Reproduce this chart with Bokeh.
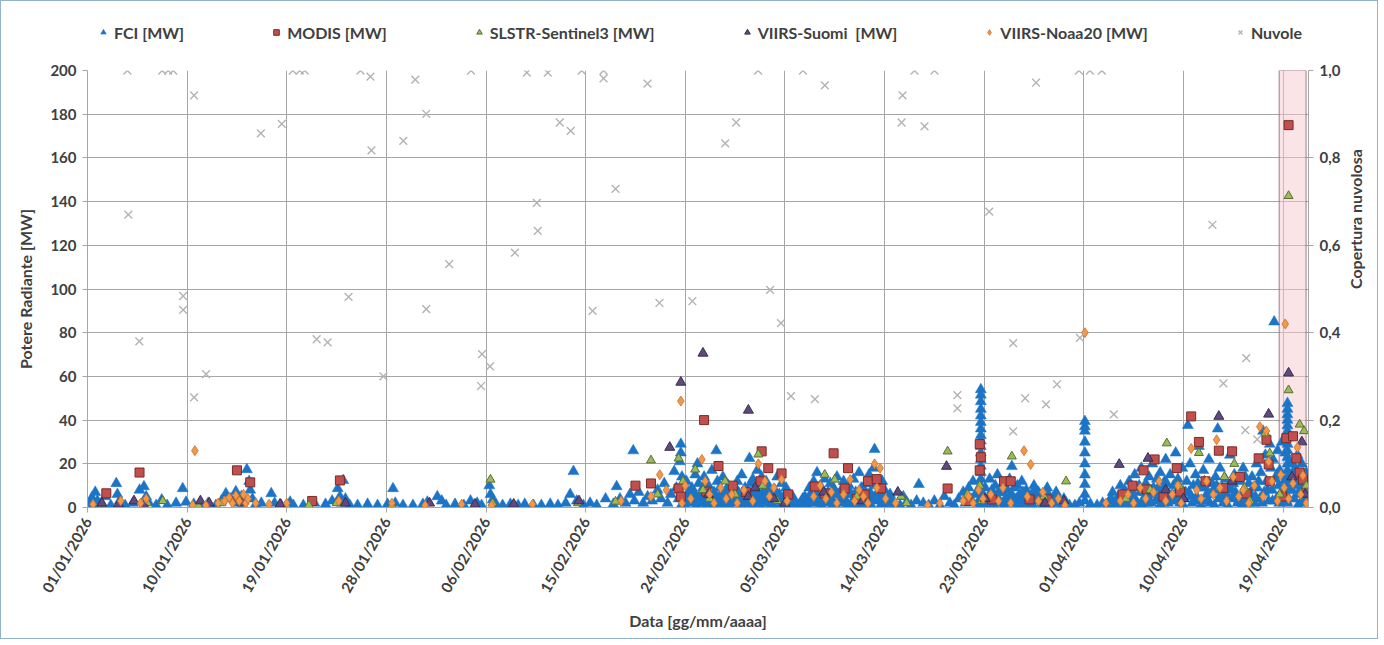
import pandas as pd
from bokeh.plotting import figure
from bokeh.layouts import column
from bokeh.models import (Range1d, LinearAxis, FixedTicker, DatetimeTickFormatter, BoxAnnotation,
                          Legend, LegendItem, ColumnDataSource, CustomJSTickFormatter)
from bokeh.embed import file_html
from bokeh.resources import INLINE

# ---------------- data (day offset from 01/01/2026, value) ----------------
tick_labels = ["01/01/2026", "10/01/2026", "19/01/2026", "28/01/2026", "06/02/2026", "15/02/2026",
               "24/02/2026", "05/03/2026", "14/03/2026", "23/03/2026", "01/04/2026", "10/04/2026",
               "19/04/2026"]
mw_ticks = [0, 20, 40, 60, 80, 100, 120, 140, 160, 180, 200]
cloud_ticks = [0.0, 0.2, 0.4, 0.6, 0.8, 1.0]
highlight_days = [107.65, 110.08]

fci = [
    (0.2, 2), (0.4, 4.5), (0.5, 1), (0.7, 7), (0.9, 3), (1.2, 1.5), (1.6, 5), (2.1, 1), (2.6, 11), (2.7, 6),
    (2.9, 3), (3.4, 1), (4.1, 2), (4.7, 8), (5.1, 9.6), (5.3, 5), (5.5, 2.5), (6.2, 1), (6.7, 3.5), (7.2, 1),
    (8.0, 2), (8.6, 8.7), (8.9, 2.5), (9.6, 1.5),
    (10.3, 1), (10.9, 2), (11.6, 1), (12.1, 3), (12.5, 6.4), (12.9, 4), (13.4, 7.3), (13.6, 2), (13.9, 5),
    (14.1, 3), (14.4, 17.4), (14.6, 12), (14.7, 8), (14.9, 4), (15.2, 1.5), (15.7, 2), (16.6, 6.4), (16.9, 2),
    (17.5, 1), (18.3, 2.5), (18.6, 1),
    (19.5, 1), (20.5, 2), (21.5, 1.5), (22.1, 3), (22.6, 8.7), (22.8, 5), (23.0, 2), (23.1, 12.4), (23.3, 4),
    (23.7, 1), (24.4, 1), (25.3, 1.5), (26.2, 1), (27.1, 1.5), (27.6, 8.7), (27.8, 2), (28.5, 1), (29.4, 1),
    (30.3, 1.5), (30.7, 2.5), (31.6, 5), (32.0, 3), (32.4, 1), (33.2, 1.5), (34.0, 1), (34.6, 3), (35.2, 2),
    (35.6, 1), (36.3, 10), (36.4, 6), (36.6, 3.5), (36.9, 1.5),
    (37.5, 1), (38.2, 1.5), (38.9, 1), (39.5, 1.5), (40.3, 1), (41.0, 1), (41.8, 1.5), (42.5, 1), (43.2, 2),
    (43.6, 6), (43.9, 16.5), (44.2, 3), (44.8, 1), (45.4, 2), (46.0, 1), (46.8, 4), (47.5, 1.5), (47.8, 9.6),
    (48.1, 4), (48.6, 2), (49.0, 6), (49.3, 26), (49.4, 3), (49.8, 7), (50.2, 2), (50.6, 5), (51.0, 3),
    (51.5, 8), (51.8, 4), (52.1, 11), (52.4, 2), (52.7, 6), (53.0, 16.5), (53.2, 9), (53.4, 4),
    (53.6, 29), (53.6, 25), (53.5, 21), (53.7, 14), (53.8, 10), (53.6, 6), (53.9, 3), (53.7, 1.5),
    (54.1, 12), (54.3, 7), (54.4, 4), (54.6, 9), (54.7, 2), (54.9, 15), (54.9, 5),
    (55.1, 20), (55.2, 11), (55.4, 6), (55.5, 2), (55.7, 14), (55.8, 8), (55.9, 3),
    (56.1, 10), (56.2, 5), (56.4, 17), (56.5, 1.5), (56.6, 7), (56.8, 26), (56.9, 12), (56.9, 4),
    (57.1, 9), (57.3, 3), (57.4, 14), (57.6, 6), (57.8, 1.5), (57.9, 10),
    (58.2, 4), (58.4, 8), (58.6, 2), (58.7, 12), (58.9, 5),
    (59.1, 15), (59.2, 3), (59.4, 9), (59.6, 1.5), (59.8, 22.5), (59.9, 11), (59.9, 6),
    (60.1, 13), (60.2, 4), (60.4, 8), (60.5, 17), (60.6, 2), (60.7, 10), (60.8, 5), (60.9, 14),
    (61.0, 7), (61.2, 3), (61.3, 12), (61.5, 2), (61.5, 6), (61.6, 9), (61.8, 4), (61.9, 1.5),
    (62.1, 8), (62.3, 14), (62.4, 3), (62.5, 6), (62.7, 11), (62.8, 2), (62.9, 5),
    (63.1, 9), (63.3, 3), (63.5, 1.5), (63.7, 5), (63.9, 2),
    (64.2, 1), (64.6, 4), (64.9, 2),
    (65.2, 9), (65.4, 4), (65.6, 12), (65.8, 6), (65.9, 16), (66.0, 2),
    (66.2, 10), (66.4, 5), (66.6, 13), (66.7, 2), (66.9, 7),
    (67.1, 11), (67.2, 4), (67.4, 9), (67.5, 1.5), (67.7, 14), (67.8, 6), (67.9, 3),
    (68.1, 8), (68.3, 12), (68.4, 4), (68.6, 2), (68.8, 10), (68.9, 6),
    (69.1, 3), (69.2, 13), (69.4, 7), (69.6, 2), (69.7, 16), (69.9, 9),
    (70.1, 5), (70.3, 11), (70.4, 2), (70.6, 15), (70.7, 7), (70.9, 4), (71.1, 26.6), (71.0, 18),
    (71.2, 10), (71.4, 3), (71.5, 8), (71.7, 1.5), (71.8, 12), (71.9, 5),
    (72.2, 3), (72.5, 6), (72.8, 1.5),
    (53.8, 4), (54.0, 1), (54.2, 6), (54.5, 2.5), (54.8, 7), (55.0, 1), (55.3, 4), (55.6, 9), (55.9, 1),
    (56.0, 5), (56.3, 2), (56.7, 4), (57.0, 1), (57.2, 6), (57.5, 2), (57.7, 8), (58.0, 1), (58.1, 5),
    (58.5, 3), (58.8, 7), (59.0, 1), (59.3, 5), (59.5, 3), (59.7, 7), (60.0, 1), (60.3, 6), (60.5, 3),
    (60.8, 1), (61.1, 5), (61.4, 8), (61.7, 1), (62.0, 4), (62.2, 6.5), (62.6, 1), (63.0, 3), (63.2, 6),
    (63.4, 1), (63.8, 3.5), (64.4, 2), (64.8, 5), (65.0, 1), (65.3, 6), (65.5, 2), (65.7, 8), (66.1, 4),
    (66.3, 1), (66.5, 7), (66.8, 3), (67.0, 5), (67.3, 1), (67.6, 6), (68.0, 2), (68.2, 5), (68.5, 8),
    (68.7, 1), (69.0, 6), (69.3, 1), (69.5, 4), (69.8, 5), (70.0, 1), (70.2, 8), (70.5, 4), (70.8, 1),
    (71.3, 6), (71.6, 4), (71.9, 1), (72.0, 8), (72.4, 2), (72.6, 4),
    (73.4, 1), (73.7, 5), (74.0, 2.5), (74.4, 1), (74.9, 3), (75.1, 10.6), (75.5, 2), (76.0, 1), (76.5, 3),
    (77.0, 1), (77.4, 5), (77.9, 2), (78.3, 1), (78.7, 4), (79.1, 7), (79.3, 2), (79.6, 9), (79.8, 4),
    (80.0, 12), (80.2, 6), (80.4, 2),
    (80.7, 54), (80.7, 51.5), (80.7, 48.5), (80.7, 45), (80.7, 42), (80.7, 39), (80.7, 36), (80.7, 33),
    (80.7, 30.5), (80.7, 28), (80.7, 25), (80.7, 22), (80.7, 19), (80.7, 16), (80.7, 13), (80.7, 10),
    (80.7, 7), (80.7, 4), (80.7, 1.5),
    (81.0, 5), (81.1, 9), (81.3, 2), (81.5, 13), (81.6, 6), (81.8, 3), (82.0, 10), (82.2, 15), (82.3, 7),
    (82.5, 2), (82.7, 11), (82.9, 4), (83.1, 8), (83.3, 13), (83.5, 18.8), (83.6, 5), (83.8, 2), (84.0, 10),
    (84.2, 6), (84.4, 12), (84.6, 3), (84.8, 8), (85.0, 1.5), (85.3, 6), (85.5, 10), (85.7, 3), (85.9, 7),
    (86.2, 2), (86.4, 5), (86.7, 9), (86.9, 1.5), (87.2, 4), (87.5, 7), (87.8, 2), (88.2, 4), (88.7, 1),
    (81.2, 1), (81.4, 4), (81.7, 8), (81.9, 1), (82.1, 5), (82.4, 3), (82.6, 7), (82.8, 1), (83.0, 4),
    (83.2, 2), (83.4, 6), (83.7, 9), (83.9, 4), (84.1, 1), (84.3, 3), (84.5, 7), (84.7, 1), (84.9, 5),
    (85.2, 3), (85.4, 1), (85.6, 8), (85.8, 4), (86.0, 6), (86.3, 1), (86.6, 3), (86.8, 6), (87.0, 1),
    (87.4, 2), (87.6, 5), (88.0, 1), (88.4, 2),
    (90.1, 39.4), (90.1, 37), (90.1, 35), (90.1, 30), (90.1, 25), (90.1, 20), (90.1, 15), (90.1, 10.6),
    (90.1, 6), (90.1, 3),
    (89.2, 1), (89.6, 2), (90.6, 1.5), (91.2, 1), (91.7, 2),
    (92.3, 3), (92.6, 7), (92.8, 1.5),
    (93.1, 5), (93.3, 10), (93.5, 2), (93.7, 8), (93.9, 4),
    (94.1, 12), (94.2, 6), (94.4, 3), (94.6, 15), (94.7, 9), (94.9, 1.5),
    (95.1, 7), (95.2, 18), (95.4, 4), (95.6, 11), (95.7, 2), (95.9, 14),
    (96.0, 6), (96.2, 20), (96.3, 9), (96.5, 3), (96.6, 13), (96.8, 5), (96.9, 16),
    (97.1, 8), (97.2, 2), (97.4, 22), (97.5, 11), (97.7, 6), (97.8, 15), (97.9, 3),
    (98.1, 10), (98.3, 25), (98.4, 5), (98.5, 13), (98.7, 2), (98.8, 8), (98.9, 18),
    (99.1, 4), (99.3, 12), (99.4, 37.6), (99.5, 7), (99.6, 20), (99.8, 2), (99.9, 10),
    (100.1, 15), (100.2, 5), (100.4, 28), (100.5, 9), (100.7, 3), (100.8, 17), (100.9, 12),
    (101.1, 6), (101.3, 22), (101.4, 2), (101.6, 11), (101.7, 8), (101.9, 14),
    (102.1, 36), (102.2, 4), (102.3, 18), (102.5, 9), (102.6, 2), (102.8, 13), (102.9, 6),
    (103.1, 10), (103.2, 24), (103.4, 4), (103.6, 15), (103.7, 7), (103.9, 2),
    (104.1, 12), (104.2, 5), (104.4, 18), (104.5, 8), (104.7, 3), (104.9, 11),
    (105.1, 6), (105.2, 14), (105.4, 2), (105.6, 20), (105.7, 9), (105.9, 4),
    (106.0, 16), (106.2, 35), (106.3, 7), (106.4, 24), (106.5, 12), (106.7, 3), (106.8, 29), (106.9, 18),
    (107.0, 8), (107.1, 22), (107.2, 85), (107.3, 13), (107.4, 4), (107.5, 26), (107.6, 10), (107.7, 17),
    (107.8, 6), (107.9, 30),
    (92.1, 1), (92.5, 4), (92.9, 2), (93.2, 1), (93.4, 6), (93.8, 3), (94.0, 1), (94.3, 8), (94.5, 5),
    (94.8, 2), (95.0, 10), (95.3, 1), (95.5, 7), (95.8, 4), (96.1, 2), (96.4, 6), (96.7, 9), (96.9, 1),
    (97.0, 5), (97.3, 12), (97.6, 2), (98.0, 6), (98.2, 3), (98.6, 9), (99.0, 1), (99.2, 7), (99.7, 5),
    (100.0, 3), (100.3, 11), (100.6, 1), (101.0, 9), (101.2, 3), (101.5, 6), (101.8, 1), (102.0, 10),
    (102.4, 6), (102.7, 4), (103.0, 1), (103.3, 8), (103.5, 11), (103.8, 5), (104.0, 3), (104.3, 1),
    (104.6, 14), (104.8, 6), (105.0, 2), (105.3, 9), (105.5, 5), (105.8, 12), (106.1, 2), (106.6, 8),
    (107.05, 3), (107.45, 15), (107.65, 2), (108.0, 7), (108.3, 3), (108.6, 11), (109.0, 13), (109.35, 1),
    (109.65, 9), (109.85, 3), (110.05, 8), (110.25, 13),
    (108.4, 47.7), (108.4, 45), (108.4, 42.5), (108.4, 40), (108.4, 37.5), (108.4, 35), (108.4, 32),
    (108.4, 29), (108.4, 26), (108.4, 23), (108.4, 20), (108.4, 17), (108.4, 14), (108.4, 11), (108.4, 8),
    (108.4, 5), (108.4, 2),
    (108.1, 12), (108.2, 25), (108.7, 20), (108.8, 8), (108.9, 15),
    (109.0, 4), (109.1, 18), (109.2, 10), (109.3, 24), (109.4, 6), (109.5, 14), (109.6, 2), (109.7, 20),
    (109.8, 9), (109.9, 12), (110.0, 5), (110.1, 16), (110.2, 3), (110.3, 10),
]

modis = [
    (1.7, 6.5), (4.7, 16), (13.5, 17), (14.7, 11.5), (20.3, 3), (22.8, 12.4), (49.5, 10), (50.9, 11),
    (53.4, 8.7), (53.6, 5), (55.7, 40), (55.9, 7.3), (57.0, 19), (58.3, 10), (59.5, 7), (60.8, 12),
    (60.9, 25.7), (61.5, 18), (62.7, 15.6), (63.3, 6), (65.7, 9.6), (66.6, 6.4), (67.4, 24.8), (68.4, 8.7),
    (68.7, 18), (69.5, 4), (70.2, 5.9), (70.5, 12), (71.3, 13), (71.7, 8.7), (77.7, 8.7), (79.5, 3),
    (80.6, 17), (80.6, 29), (80.7, 23), (81.7, 3.7), (82.8, 12), (83.4, 12), (85.1, 3.7), (86.7, 3.7),
    (93.5, 6), (94.4, 10), (95.4, 17), (95.7, 8.3), (96.4, 22), (97.2, 5), (98.4, 18), (98.7, 7.3),
    (99.7, 41.7), (100.4, 30), (101.0, 12), (102.2, 26), (102.6, 9), (103.4, 25.7), (104.1, 14),
    (104.7, 6.4), (105.8, 22.5), (106.5, 31), (106.7, 19.7), (106.8, 12), (107.9, 5), (108.3, 31.7),
    (108.5, 175), (108.9, 32.6), (109.2, 22.5), (109.5, 16), (109.8, 12.8), (110.1, 7),
]

slstr = [
    (1.3, 1.5), (5.4, 2), (6.8, 3), (10.0, 1), (12.1, 2), (13.8, 3), (20.0, 1), (22.5, 2), (27.5, 1),
    (36.4, 12.8), (36.6, 2), (44.3, 2), (47.7, 2.7), (50.9, 21.6), (51.5, 6), (53.4, 22.5), (53.8, 12),
    (54.9, 17.4), (55.6, 8), (56.2, 4), (57.6, 12), (58.5, 6), (60.6, 24.3), (61.0, 10), (62.3, 3),
    (66.6, 15), (67.5, 12.8), (69.5, 5), (73.5, 5), (74.0, 2), (77.7, 25.7), (79.5, 6), (80.6, 10),
    (80.8, 3), (83.5, 23.4), (86.4, 5), (88.4, 12), (93.8, 4), (96.0, 8), (97.5, 29.4), (98.6, 10),
    (100.4, 25), (102.7, 14), (103.6, 20), (104.5, 9), (105.0, 3), (106.4, 34), (106.8, 24.8),
    (107.7, 6), (108.5, 142.6), (108.5, 53.7), (109.5, 38), (109.9, 35), (110.1, 10),
]

suomi = [
    (1.3, 2), (2.8, 1.5), (4.2, 3), (5.1, 1), (10.2, 3), (11.0, 2), (13.3, 4), (14.0, 2), (17.4, 1.5),
    (23.3, 2), (30.9, 2), (35.0, 1.5), (38.5, 1.5), (44.4, 3), (52.6, 27.5), (53.6, 57.3), (55.6, 70.6),
    (56.1, 6), (59.7, 5), (59.7, 44.5), (60.3, 9), (62.0, 4), (63.0, 2), (66.5, 7), (70.0, 3), (73.2, 7),
    (77.6, 18.8), (81.1, 4), (86.5, 2), (88.2, 3), (93.2, 19.7), (95.8, 22.5), (97.4, 8), (99.0, 4),
    (102.2, 41.7), (103.4, 12), (106.7, 42.7), (108.5, 61.5), (108.8, 14), (109.7, 30), (110.0, 6),
]

noaa20 = [
    (0.5, 1.5), (3.0, 3), (4.8, 2), (5.3, 4), (9.5, 1), (9.7, 26), (10.7, 1), (11.8, 2), (12.4, 3),
    (12.8, 4.5), (13.1, 2), (13.4, 5.5), (13.7, 3), (14.1, 6), (14.3, 2), (14.5, 4), (15.2, 2), (16.4, 1.5),
    (18.0, 2), (22.7, 3), (27.5, 2), (30.5, 1), (33.8, 1.5), (36.5, 1), (40.2, 1.5),
    (48.2, 3), (50.9, 5), (51.7, 15), (52.3, 8), (53.6, 48.7), (53.7, 2), (54.0, 10), (54.5, 4), (55.5, 22),
    (55.8, 12), (56.2, 6), (56.6, 2), (57.2, 9), (57.7, 4), (58.2, 6), (58.7, 2), (59.3, 8), (60.1, 3),
    (60.6, 20), (61.2, 12), (61.6, 5), (62.0, 9), (62.7, 12.8), (63.2, 3), (65.6, 5), (66.2, 10), (66.7, 4),
    (67.2, 7), (67.7, 2), (68.3, 6), (68.9, 12.8), (69.3, 3), (69.7, 8), (70.1, 5), (70.5, 2), (71.1, 20),
    (71.3, 9), (71.6, 18), (72.1, 4), (73.0, 2), (75.9, 1), (77.0, 2), (79.1, 3), (79.6, 5), (80.0, 2),
    (80.5, 8), (80.9, 4), (81.6, 6), (82.3, 3), (82.7, 9), (83.4, 2), (84.6, 26), (85.2, 19.7), (84.9, 5),
    (85.9, 3), (86.3, 7), (87.1, 2), (87.7, 4), (88.3, 1), (90.1, 80), (92.0, 2), (93.3, 3), (94.0, 6),
    (94.5, 2), (95.1, 9), (95.6, 4), (96.3, 7), (96.8, 12), (97.4, 3), (98.0, 6), (98.5, 10), (98.8, 2),
    (99.7, 27), (100.2, 8), (100.6, 4), (101.1, 12), (101.7, 6), (102.0, 31), (102.3, 9), (102.9, 3),
    (103.5, 14), (104.0, 5), (104.4, 8), (104.9, 2), (105.4, 10), (105.9, 37), (106.2, 5), (106.5, 35),
    (106.7, 21), (107.0, 12), (107.5, 3), (107.8, 15), (108.1, 9), (108.2, 84), (108.5, 4), (108.9, 11),
    (109.3, 27.5), (109.6, 6), (109.8, 14.7), (110.1, 2),
]

nuvole = [
    (3.60, 1.0), (3.69, 0.67), (4.68, 0.38), (6.75, 1.0), (7.29, 1.0), (7.74, 1.0), (8.64, 0.484),
    (8.64, 0.452), (9.63, 0.943), (9.63, 0.252), (10.71, 0.305), (15.66, 0.856), (17.55, 0.878),
    (18.54, 1.0), (19.17, 1.0), (19.62, 1.0), (20.70, 0.385), (21.69, 0.378), (23.58, 0.482),
    (24.66, 1.0), (25.56, 0.986), (25.65, 0.817), (26.73, 0.300), (28.53, 0.839), (29.61, 0.979),
    (30.60, 0.901), (30.60, 0.454), (32.67, 0.557), (34.65, 1.0), (35.64, 0.351), (36.36, 0.323),
    (35.55, 0.278), (38.61, 0.583), (39.69, 0.995), (40.59, 0.697), (40.68, 0.633), (41.58, 0.995),
    (42.66, 0.881), (43.65, 0.862), (44.64, 1.0), (45.63, 0.450), (46.62, 1.0), (46.62, 0.982),
    (47.70, 0.729), (50.59, 0.970), (51.67, 0.468), (54.64, 0.472), (57.61, 0.833), (58.60, 0.881),
    (60.58, 1.0), (61.66, 0.498), (62.65, 0.422), (63.55, 0.255), (64.63, 1.0), (65.71, 0.248),
    (66.61, 0.966), (73.54, 0.881), (73.63, 0.943), (74.71, 1.0), (75.61, 0.872), (76.51, 1.0),
    (78.58, 0.257), (78.58, 0.227), (81.46, 0.677), (83.62, 0.376), (83.62, 0.174), (84.70, 0.250),
    (85.69, 0.972), (86.59, 0.236), (87.58, 0.282), (89.56, 1.0), (90.55, 1.0), (91.63, 1.0),
    (89.65, 0.388), (92.71, 0.213), (101.62, 0.647), (102.61, 0.284), (104.68, 0.342), (104.59, 0.177),
    (105.67, 0.156),
]

series_labels = ["FCI [MW]", "MODIS [MW]", "SLSTR-Sentinel3 [MW]", "VIIRS-Suomi  [MW]",
                 "VIIRS-Noaa20 [MW]", "Nuvole"]

# ---------------- helpers ----------------
START = pd.Timestamp("2026-01-01")


def src(pairs):
    return ColumnDataSource(dict(x=[START + pd.Timedelta(days=d) for d, _ in pairs],
                                 y=[v for _, v in pairs]))


FONT = "Lato"
TXT = "#404040"
GRID = "#a6a6a6"

STYLES = [
    dict(marker="triangle", size=11, fill_color="#1c74c6", line_color="#1c74c6", line_width=0.5),
    dict(marker="square", size=9, fill_color="#c0504d", line_color="#7b2a28", line_width=1),
    dict(marker="triangle", size=9, fill_color="#9bbb59", line_color="#5b6e35", line_width=1),
    dict(marker="triangle", size=10, fill_color="#5f4a7e", line_color="#3a2d4f", line_width=1),
    dict(marker="diamond", size=10, fill_color="#f79646", line_color="#c0712f", line_width=0.8),
    dict(marker="x", size=11, line_color="#b3b3b3", line_width=1.4),
]

LEG_H = 52
W = 1376
x_end = START + pd.Timedelta(days=110.3)
p = figure(width=W, height=637 - LEG_H, x_axis_type="datetime",
           x_range=Range1d(START, x_end), y_range=Range1d(0, 200),
           output_backend="svg", toolbar_location=None,
           min_border_left=86, min_border_right=64, min_border_top=17, min_border_bottom=131)
p.extra_y_ranges = {"cloud": Range1d(0, 1)}

p.background_fill_color = "white"
p.border_fill_color = "white"
p.outline_line_color = None

tick_ms = [int(pd.to_datetime(t, format="%d/%m/%Y").value // 10**6) for t in tick_labels]
xa = p.xaxis[0]
xa.ticker = FixedTicker(ticks=tick_ms)
fmt = "%d/%m/%Y"
xa.formatter = DatetimeTickFormatter(milliseconds=fmt, seconds=fmt, minsec=fmt, minutes=fmt,
                                     hourmin=fmt, hours=fmt, days=fmt, months=fmt, years=fmt)
xa.major_label_orientation = 1.047
xa.axis_label = "Data [gg/mm/aaaa]"

ya = p.yaxis[0]
ya.ticker = FixedTicker(ticks=mw_ticks)
ya.axis_label = "Potere Radiante [MW]"

ra = LinearAxis(y_range_name="cloud", ticker=FixedTicker(ticks=cloud_ticks),
                formatter=CustomJSTickFormatter(code="return tick.toFixed(1).replace('.', ',');"),
                axis_label="Copertura nuvolosa")
if "axis_label_orientation" in ra.properties():
    ra.axis_label_orientation = 1.5708
p.add_layout(ra, "right")

for ax in (xa, ya, ra):
    ax.axis_line_color = GRID
    ax.major_tick_line_color = GRID
    ax.major_tick_out = 5
    ax.major_tick_in = 0
    ax.minor_tick_line_color = None
    ax.major_label_text_font = FONT
    ax.major_label_text_font_style = "bold"
    ax.major_label_text_font_size = "15px"
    ax.major_label_text_color = TXT
    ax.axis_label_text_font = FONT
    ax.axis_label_text_font_style = "bold"
    ax.axis_label_text_font_size = "16px"
    ax.axis_label_text_color = TXT
    ax.major_label_standoff = 6
xa.axis_label_standoff = 8
ya.axis_label_standoff = 12
ra.axis_label_standoff = 12

p.xgrid.ticker = FixedTicker(ticks=tick_ms)
p.xgrid.grid_line_color = GRID
p.ygrid.grid_line_color = GRID

band = BoxAnnotation(left=START + pd.Timedelta(days=highlight_days[0]),
                     right=START + pd.Timedelta(days=highlight_days[1]),
                     fill_color="#f6c9d2", fill_alpha=0.5, line_color="#7d4a55", line_alpha=0.7,
                     line_width=1, level="underlay")
p.add_layout(band)

all_series = [fci, modis, slstr, suomi, noaa20, nuvole]
for i, data in enumerate(all_series):
    kw = dict(STYLES[i])
    if i == 5:
        kw["y_range_name"] = "cloud"
    p.scatter("x", "y", source=src(data), **kw)

# ---------------- legend strip (separate figure above the chart) ----------------
lf = figure(width=W, height=LEG_H, x_range=Range1d(0, 1), y_range=Range1d(0, 1),
            output_backend="svg", toolbar_location=None, x_axis_location=None, y_axis_location=None,
            min_border=0)
lf.grid.visible = False
lf.outline_line_color = None
lf.background_fill_color = "white"
lf.border_fill_color = "white"
items = []
for i, lab in enumerate(series_labels):
    r = lf.scatter(x=[-5], y=[-5], **STYLES[i])
    items.append(LegendItem(label=lab, renderers=[r]))

legend = Legend(items=items, orientation="horizontal", location=(9, 11))
legend.label_text_font = FONT
legend.label_text_font_style = "bold"
legend.label_text_font_size = "16px"
legend.label_text_color = TXT
legend.glyph_width = 14
legend.glyph_height = 20
legend.label_standoff = 4
legend.spacing = 85
legend.padding = 9
legend.margin = 0
legend.border_line_color = None
legend.background_fill_alpha = 0
lf.add_layout(legend, "center")

layout = column(lf, p, spacing=0)
layout.styles = {"border": "1px solid #8fb3cf", "background-color": "white"}

open("out.html", "w").write(file_html(layout, INLINE))
